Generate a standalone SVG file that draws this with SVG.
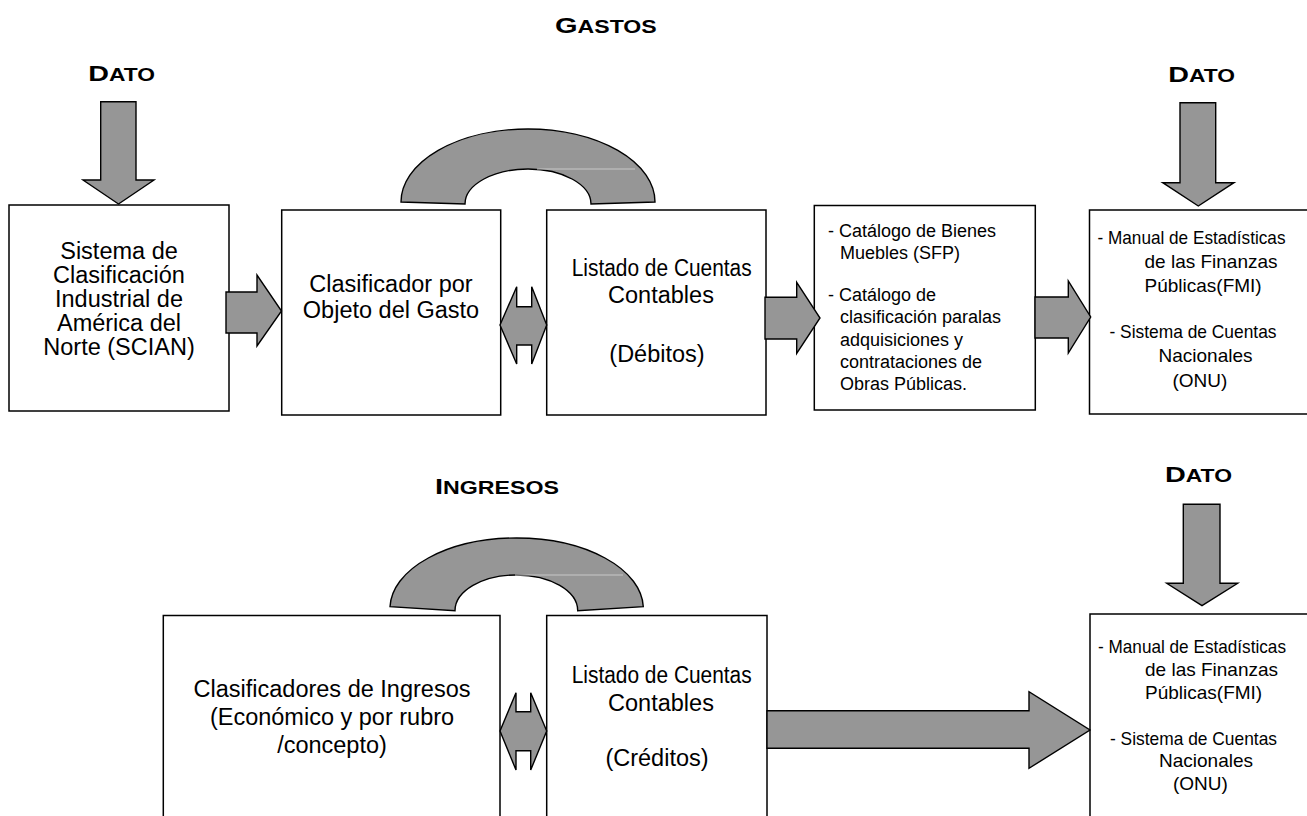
<svg xmlns="http://www.w3.org/2000/svg" width="1307" height="816" viewBox="0 0 1307 816">
<style>
.box{fill:#fff;stroke:#000;stroke-width:1.5}
.arr{fill:#969696;stroke:#000;stroke-width:1.4;stroke-linejoin:miter}
.hl{stroke:#c8c8c8;stroke-width:1}
text{font-family:"Liberation Sans",Arial,sans-serif;fill:#000}
.t{font-size:23.5px;text-anchor:middle}
.s{font-size:18px}
.m{font-size:19px}
.h{font-weight:bold}
</style>
<rect width="1307" height="816" fill="#fff"/>

<g id="titulo-gastos"><text class="h" x="555" y="33.3" textLength="101.7" lengthAdjust="spacingAndGlyphs"><tspan font-size="22">G</tspan><tspan font-size="17.5">ASTOS</tspan></text></g>
<g id="titulo-ingresos"><text class="h" x="435" y="494.3" textLength="124" lengthAdjust="spacingAndGlyphs"><tspan font-size="22">I</tspan><tspan font-size="17.5">NGRESOS</tspan></text></g>
<g id="dato-1"><text class="h" x="88.3" y="80.7" textLength="66.7" lengthAdjust="spacingAndGlyphs"><tspan font-size="22">D</tspan><tspan font-size="17.5">ATO</tspan></text></g>
<g id="dato-2"><text class="h" x="1168.3" y="81.7" textLength="66.7" lengthAdjust="spacingAndGlyphs"><tspan font-size="22">D</tspan><tspan font-size="17.5">ATO</tspan></text></g>
<g id="dato-3"><text class="h" x="1165" y="481.7" textLength="67" lengthAdjust="spacingAndGlyphs"><tspan font-size="22">D</tspan><tspan font-size="17.5">ATO</tspan></text></g>

<g id="scian">
<rect class="box" x="9" y="205" width="220" height="206"/>
<text class="t" x="119" y="258.5">Sistema de</text>
<text class="t" x="119" y="282.5">Clasificación</text>
<text class="t" x="119" y="306.5">Industrial de</text>
<text class="t" x="119" y="330.5">América del</text>
<text class="t" x="119" y="354.5">Norte (SCIAN)</text>
</g>

<g id="cog">
<rect class="box" x="281.7" y="210" width="219" height="205"/>
<text class="t" x="391" y="291.7">Clasificador por</text>
<text class="t" x="391" y="318">Objeto del Gasto</text>
</g>

<g id="cuentas-debitos">
<rect class="box" x="546.7" y="210" width="219.3" height="205"/>
<text class="t" x="661.7" y="276" textLength="180" lengthAdjust="spacingAndGlyphs">Listado de Cuentas</text>
<text class="t" x="661" y="303.3">Contables</text>
<text class="t" x="657" y="361.7">(Débitos)</text>
</g>

<g id="catalogos">
<rect class="box" x="814.3" y="205.5" width="221" height="204.5"/>
<text class="s" x="828" y="236.7">- Catálogo de Bienes</text>
<text class="s" x="840" y="259">Muebles (SFP)</text>
<text class="s" x="828" y="301">- Catálogo de</text>
<text class="s" x="840" y="323.3">clasificación paralas</text>
<text class="s" x="840" y="345.6">adquisiciones y</text>
<text class="s" x="840" y="368">contrataciones de</text>
<text class="s" x="840" y="390.3">Obras Públicas.</text>
</g>

<g id="manual-gastos">
<rect class="box" x="1089.5" y="210" width="240" height="204"/>
<text class="m" x="1097.5" y="244" textLength="188" lengthAdjust="spacingAndGlyphs">- Manual de Estadísticas</text>
<text class="m" x="1144.5" y="268">de las Finanzas</text>
<text class="m" x="1144.5" y="292">Públicas(FMI)</text>
<text class="m" x="1109.5" y="338" textLength="167" lengthAdjust="spacingAndGlyphs">- Sistema de Cuentas</text>
<text class="m" x="1158.5" y="362">Nacionales</text>
<text class="m" x="1172.5" y="387">(ONU)</text>
</g>

<g id="clasif-ingresos">
<rect class="box" x="163.3" y="615.5" width="336.7" height="230"/>
<text class="t" x="332" y="696.7">Clasificadores de Ingresos</text>
<text class="t" x="332" y="725">(Económico y por rubro</text>
<text class="t" x="332" y="753.3">/concepto)</text>
</g>

<g id="cuentas-creditos">
<rect class="box" x="546.7" y="615.5" width="220.3" height="230"/>
<text class="t" x="661.7" y="682.7" textLength="180" lengthAdjust="spacingAndGlyphs">Listado de Cuentas</text>
<text class="t" x="661" y="710.7">Contables</text>
<text class="t" x="657" y="766">(Créditos)</text>
</g>

<g id="manual-ingresos">
<rect class="box" x="1090" y="614" width="240" height="230"/>
<text class="m" x="1098" y="653" textLength="188" lengthAdjust="spacingAndGlyphs">- Manual de Estadísticas</text>
<text class="m" x="1145" y="675.5">de las Finanzas</text>
<text class="m" x="1145" y="698.5">Públicas(FMI)</text>
<text class="m" x="1110" y="745" textLength="167" lengthAdjust="spacingAndGlyphs">- Sistema de Cuentas</text>
<text class="m" x="1159" y="767">Nacionales</text>
<text class="m" x="1173" y="790">(ONU)</text>
</g>

<g id="conectores">
<polygon class="arr" points="100.7,101.7 136,101.7 136,180 154,180 118.5,204 83,180 100.7,180"/>
<polygon class="arr" points="1180,102.7 1215.7,102.7 1215.7,182.7 1234,182.7 1198.3,206 1162.7,182.7 1180,182.7"/>
<polygon class="arr" points="1183.3,504.3 1220,504.3 1220,583.3 1237.7,583.3 1202,605.7 1166.7,583.3 1183.3,583.3"/>
<polygon class="arr" points="226,292 257,292 257,275 281.5,311 257,346 257,333 226,333"/>
<polygon class="arr" points="765,297.3 796.7,297.3 796.7,282.3 820,318 796.7,353.3 796.7,339 765,339"/>
<polygon class="arr" points="1035,297 1068.3,297 1068.3,281 1090.7,317 1068.3,353 1068.3,338 1035,338"/>
<polygon class="arr" points="767,710.7 1029,710.7 1029,691.7 1090,730 1029,768.3 1029,748.3 767,748.3"/>
<polygon class="arr" points="500,325 516.7,286.7 516.7,306.7 531.7,306.7 531.7,286.7 546.7,325 531.7,364 531.7,345 516.7,345 516.7,364"/>
<polygon class="arr" points="500,731 516,692.7 516,711.7 530.7,711.7 530.7,692.7 546.7,731 530.7,770 530.7,750.7 516,750.7 516,770"/>
<path class="arr" d="M401,202 A127,73 0 0 1 655,202 L591,204 A63,35 0 0 0 465,204 Z"/>
<line class="hl" x1="537" y1="169" x2="635" y2="169"/>
<path class="arr" d="M390,606.7 A126.7,70.7 0 0 1 643.3,606.7 L577.7,610.7 A61.3,35.7 0 0 0 455,610.7 Z"/>
<line class="hl" x1="515" y1="575" x2="623" y2="575"/>
</g>
</svg>
